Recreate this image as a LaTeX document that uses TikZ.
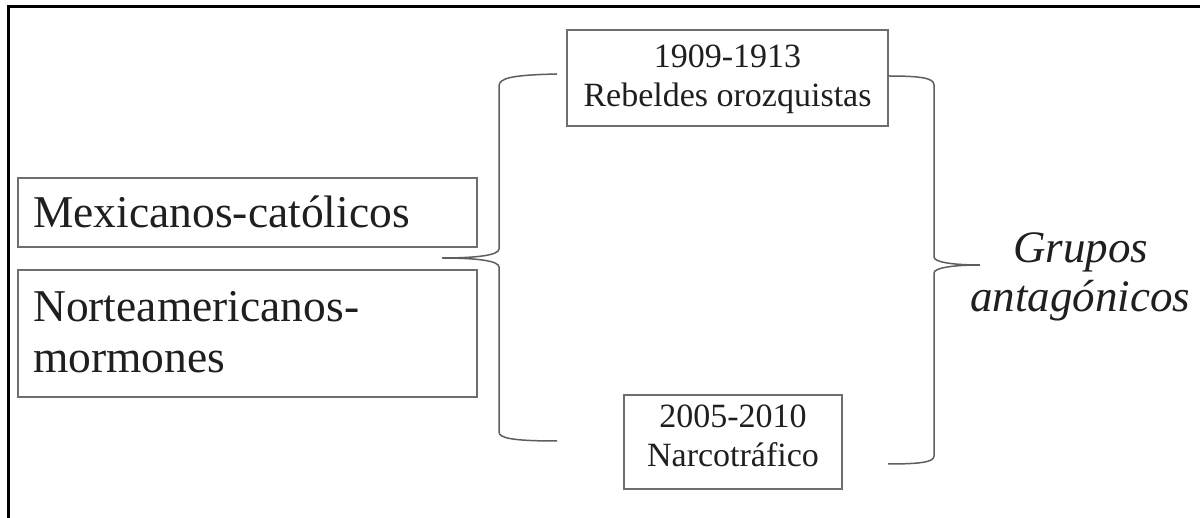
\documentclass[tikz,border=0pt]{standalone}
\usepackage{fontspec}
\setmainfont{Liberation Serif}
\begin{document}
\begin{tikzpicture}[x=1pt,y=-1pt,
  box/.style={draw=boxgray, line width=1.3pt, rectangle, inner sep=0pt},
  bigtxt/.style={anchor=base west, inner sep=0pt, font=\fontsize{45.5}{52}\selectfont, text=black!88},
  smalltxt/.style={anchor=base, inner sep=0pt, font=\fontsize{34}{39}\selectfont, text=black!88},
  grptxt/.style={anchor=base, inner sep=0pt, font=\fontsize{45}{49}\selectfont\itshape, text=black!88},
  brace/.style={draw=linegray, line width=1.5pt},
  frame/.style={draw=black, line width=3pt}]
\definecolor{boxgray}{HTML}{6E6E6E}
\definecolor{linegray}{HTML}{5E5E5E}
\useasboundingbox (0,0) rectangle (1200,518);
\fill[white] (0,0) rectangle (1200,518);
% outer frame
\draw[frame] (8,520) -- (8,7) -- (1202,7);
% left boxes
\node[box, minimum width=459pt, minimum height=69pt] (mex) at (247.5,212.5) {};
\node[bigtxt] (mext) at (33,228) {Mexicanos-católicos};
\node[box, minimum width=459pt, minimum height=127pt] (nor) at (247.5,333.5) {};
\node[bigtxt] (nort1) at (33,322) {Norteamericanos-};
\node[bigtxt] (nort2) at (33,373) {mormones};
% top box
\node[box, minimum width=321pt, minimum height=96pt] (reb) at (727.5,78) {};
\node[smalltxt] (rebt1) at (727.5,68) {1909-1913};
\node[smalltxt] (rebt2) at (727.5,107) {Rebeldes orozquistas};
% bottom box
\node[box, minimum width=218pt, minimum height=94pt] (nar) at (733,442) {};
\node[smalltxt] (nart1) at (733,428) {2005-2010};
\node[smalltxt] (nart2) at (733,467) {Narcotráfico};
% right label
\node[grptxt] (grp1) at (1081,263) {Grupos};
\node[grptxt] (grp2) at (1080,312) {antagónicos};
% brace coordinates
\coordinate (ltop) at (557,74);
\coordinate (ltip) at (442,258);
\coordinate (lbot) at (557,441);
\coordinate (rtop) at (888,76);
\coordinate (rtip) at (980,265);
\coordinate (rbot) at (888,464);
% left brace
\draw[brace] (ltop) .. controls (512,75) and (499,78) .. (499,86)
  -- (499,249) .. controls (499,255) and (478,258) .. (ltip)
  .. controls (478,258) and (499,261) .. (499,267)
  -- (499,432) .. controls (499,438) and (512,441) .. (lbot);
% right brace
\draw[brace] (rtop) .. controls (921,76) and (934,78) .. (934,85)
  -- (934,257) .. controls (934,262) and (952,265) .. (rtip)
  .. controls (952,265) and (934,268) .. (934,273)
  -- (934,456) .. controls (934,462) and (921,464) .. (rbot);
\end{tikzpicture}
\end{document}
